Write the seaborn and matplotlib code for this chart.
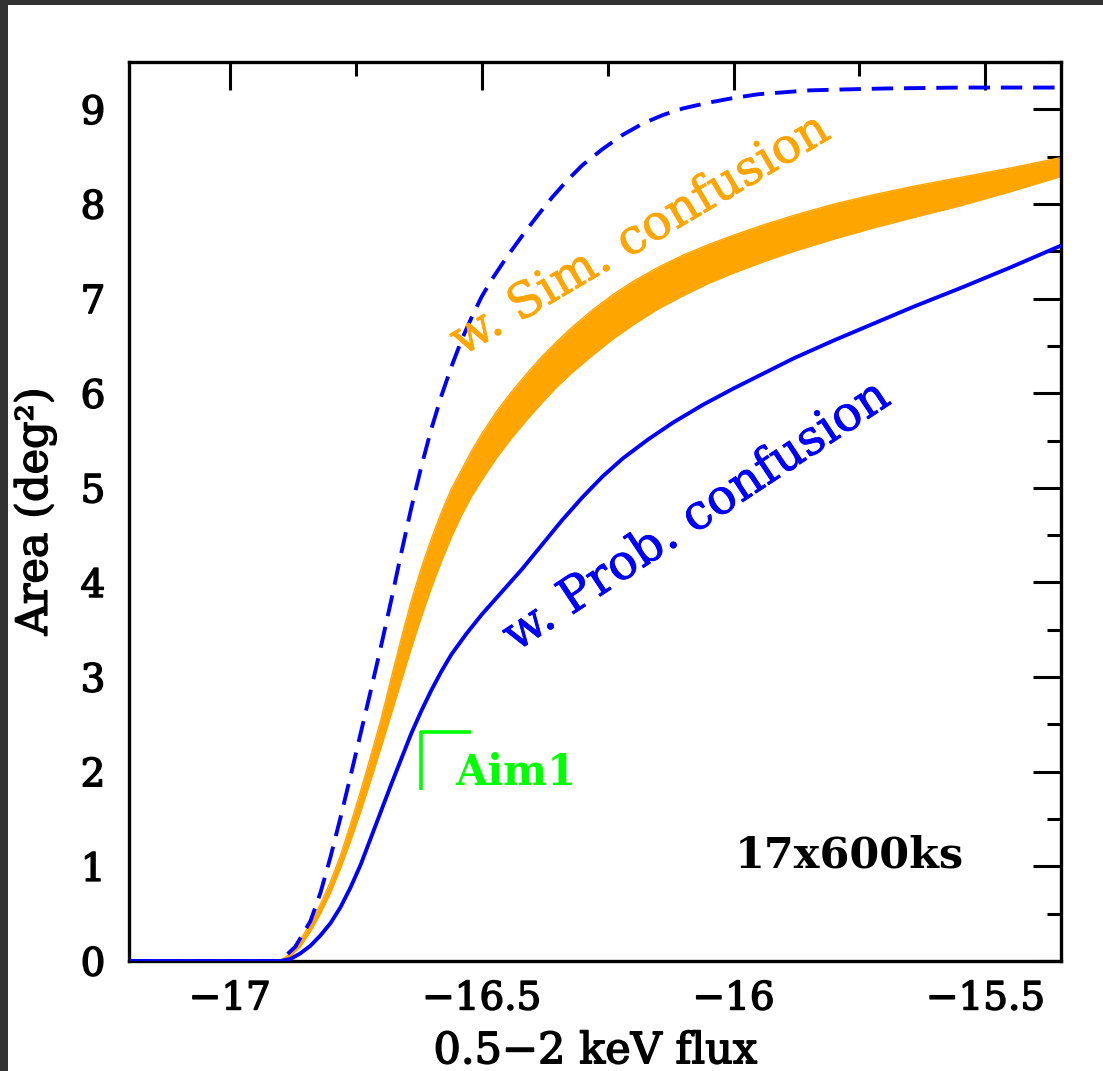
import numpy as np
import pandas as pd
import matplotlib
matplotlib.use("Agg")
import matplotlib.pyplot as plt
import matplotlib.patheffects as pe
import seaborn as sns
from matplotlib.patches import Rectangle
from matplotlib.ticker import FixedLocator, MultipleLocator

# ---------------- data ----------------
flux_dash = [-17.2, -16.90, -16.87, -16.84, -16.82, -16.80, -16.78, -16.76, -16.74,
             -16.72, -16.70, -16.68, -16.66, -16.64, -16.62, -16.60, -16.58, -16.56,
             -16.54, -16.52, -16.50, -16.48, -16.45, -16.42, -16.39, -16.36, -16.33,
             -16.30, -16.26, -16.22, -16.18, -16.14, -16.10, -16.05, -16.00, -15.95,
             -15.90, -15.85, -15.78, -15.70, -15.55, -15.35]
area_dash = [0.0, 0.0, 0.15, 0.42, 0.72, 1.10, 1.52, 1.96, 2.41,
             2.86, 3.32, 3.80, 4.30, 4.78, 5.22, 5.62, 5.97, 6.28,
             6.56, 6.80, 7.02, 7.20, 7.44, 7.66, 7.87, 8.07, 8.25,
             8.41, 8.58, 8.73, 8.85, 8.94, 9.01, 9.07, 9.12, 9.16,
             9.18, 9.20, 9.21, 9.22, 9.23, 9.23]

flux_prob = [-17.2, -16.90, -16.88, -16.86, -16.84, -16.82, -16.80, -16.78, -16.76,
             -16.74, -16.72, -16.70, -16.68, -16.66, -16.64, -16.62, -16.60, -16.58,
             -16.56, -16.53, -16.50, -16.46, -16.42, -16.38, -16.34, -16.30, -16.26,
             -16.22, -16.17, -16.12, -16.06, -16.00, -15.94, -15.88, -15.80, -15.72,
             -15.64, -15.55, -15.45, -15.35]
area_prob = [0.0, 0.0, 0.02, 0.08, 0.16, 0.27, 0.40, 0.57, 0.78,
             1.02, 1.30, 1.58, 1.86, 2.13, 2.40, 2.64, 2.86, 3.06,
             3.24, 3.46, 3.66, 3.90, 4.14, 4.40, 4.66, 4.90, 5.12,
             5.31, 5.51, 5.69, 5.88, 6.05, 6.21, 6.37, 6.56, 6.74,
             6.92, 7.11, 7.33, 7.56]

flux_sim = [-17.2, -16.90, -16.88, -16.86, -16.84, -16.82, -16.80, -16.78, -16.76,
            -16.74, -16.72, -16.70, -16.68, -16.66, -16.64, -16.62, -16.60, -16.58,
            -16.56, -16.54, -16.52, -16.50, -16.47, -16.44, -16.41, -16.38, -16.35,
            -16.32, -16.28, -16.24, -16.20, -16.15, -16.10, -16.05, -16.00, -15.94,
            -15.88, -15.80, -15.72, -15.64, -15.55, -15.45, -15.35]
sim_hi = [0.0, 0.0, 0.08, 0.22, 0.40, 0.60, 0.84, 1.12, 1.45,
          1.80, 2.17, 2.55, 2.98, 3.40, 3.80, 4.15, 4.46, 4.74,
          4.99, 5.19, 5.39, 5.57, 5.81, 6.02, 6.21, 6.39, 6.55,
          6.70, 6.88, 7.04, 7.18, 7.33, 7.46, 7.57, 7.67, 7.78,
          7.88, 8.00, 8.10, 8.19, 8.28, 8.38, 8.49]
sim_lo = [0.0, 0.0, 0.05, 0.15, 0.31, 0.50, 0.72, 0.98, 1.27,
          1.58, 1.91, 2.25, 2.60, 2.95, 3.30, 3.63, 3.94, 4.22,
          4.48, 4.71, 4.91, 5.08, 5.32, 5.53, 5.72, 5.90, 6.07,
          6.22, 6.40, 6.57, 6.72, 6.89, 7.03, 7.16, 7.27, 7.39,
          7.50, 7.63, 7.75, 7.86, 7.98, 8.13, 8.29]

x_ticks = [-17, -16.5, -16, -15.5]
x_tick_labels = ["\u221217", "\u221216.5", "\u221216", "\u221215.5"]
y_ticks = [0, 1, 2, 3, 4, 5, 6, 7, 8, 9]
y_tick_labels = [str(v) for v in y_ticks]

aim_x = [-16.621, -16.621, -16.522]
aim_y = [1.81, 2.415, 2.415]

BLUE = "#0000FF"
ORANGE = "#FFA500"
GREEN = "#00FF00"

# ---------------- figure ----------------
sns.set_style("white")
plt.rcParams["font.family"] = ["DejaVu Serif", "DejaVu Sans"]
plt.rcParams["mathtext.fontset"] = "dejavuserif"
for k in ["text.color", "axes.labelcolor", "xtick.color", "ytick.color"]:
    plt.rcParams[k] = "black"

fig = plt.figure(figsize=(11.03, 10.71), dpi=100)
fig.patch.set_facecolor("white")
# dark screenshot border (top and left)
fig.add_artist(Rectangle((0, 1 - 5 / 1071), 1, 5 / 1071, transform=fig.transFigure,
                         color="#333333", lw=0, zorder=0))
fig.add_artist(Rectangle((0, 0), 8 / 1103, 1, transform=fig.transFigure,
                         color="#333333", lw=0, zorder=0))

ax = fig.add_axes([129 / 1103, 1 - 961 / 1071, 932 / 1103, 899 / 1071])

# orange band
ax.fill_between(flux_sim, sim_lo, sim_hi, color=ORANGE, lw=0, zorder=2)
sns.lineplot(x=flux_sim, y=sim_hi, ax=ax, color=ORANGE, lw=1.0, estimator=None, sort=False, zorder=2)
sns.lineplot(x=flux_sim, y=sim_lo, ax=ax, color=ORANGE, lw=1.0, estimator=None, sort=False, zorder=2)

# blue curves
sns.lineplot(x=flux_dash, y=area_dash, ax=ax, color=BLUE, lw=2.8, estimator=None,
             sort=False, linestyle=(0, (5.5, 2.8)), zorder=3)
sns.lineplot(x=flux_prob, y=area_prob, ax=ax, color=BLUE, lw=2.8, estimator=None,
             sort=False, zorder=3)

# Aim1 marker
ax.plot(aim_x, aim_y, color=GREEN, lw=2.6, solid_capstyle="butt", zorder=4)
ax.text(-16.552, 1.86, "Aim1", color=GREEN, fontsize=30, fontweight="bold",
        ha="left", va="baseline", zorder=5)

# labels on curves
medium_orange = [pe.withStroke(linewidth=0.6, foreground=ORANGE)]
medium_blue = [pe.withStroke(linewidth=0.6, foreground=BLUE)]
ax.text(-16.185, 7.67, "w. Sim. confusion", color=ORANGE, fontsize=35,
        rotation=30.6, rotation_mode="anchor", ha="center", va="center", zorder=5,
        path_effects=medium_orange)
ax.text(-16.073, 4.70, "w. Prob. confusion", color=BLUE, fontsize=35,
        rotation=33.5, rotation_mode="anchor", ha="center", va="center", zorder=5,
        path_effects=medium_blue)
ax.text(-15.77, 1.12, "17x600ks", color="black", fontsize=31, fontweight="bold",
        ha="center", va="center", zorder=5)

# axes
medium = [pe.withStroke(linewidth=1.1, foreground="black")]
ax.set_xlim(-17.2, -15.35)
ax.set_ylim(0, 9.5)
ax.xaxis.set_major_locator(FixedLocator(x_ticks))
ax.set_xticklabels(x_tick_labels)
ax.xaxis.set_minor_locator(MultipleLocator(0.25))
ax.yaxis.set_major_locator(FixedLocator(y_ticks))
ax.set_yticklabels(y_tick_labels)
ax.yaxis.set_minor_locator(MultipleLocator(0.5))

ax.tick_params(which="both", direction="in", top=True, right=True, width=2.2,
               colors="black", labelsize=28)
ax.tick_params(which="major", length=20)
ax.tick_params(which="minor", length=10)
ax.tick_params(axis="x", which="major", pad=14)
ax.tick_params(axis="y", which="major", pad=17)
for lab in ax.get_xticklabels() + ax.get_yticklabels():
    lab.set_path_effects(medium)
for s in ax.spines.values():
    s.set_linewidth(2.4)
    s.set_color("black")

ax.set_xlabel("0.5\u22122 keV flux", fontsize=31, path_effects=medium)
ax.set_ylabel("Area (deg\u00b2)", fontsize=31, path_effects=medium)
ax.xaxis.set_label_coords(0.5, -0.077)
ax.yaxis.set_label_coords(-0.078, 0.5)

fig.savefig("out.png", dpi=100)
